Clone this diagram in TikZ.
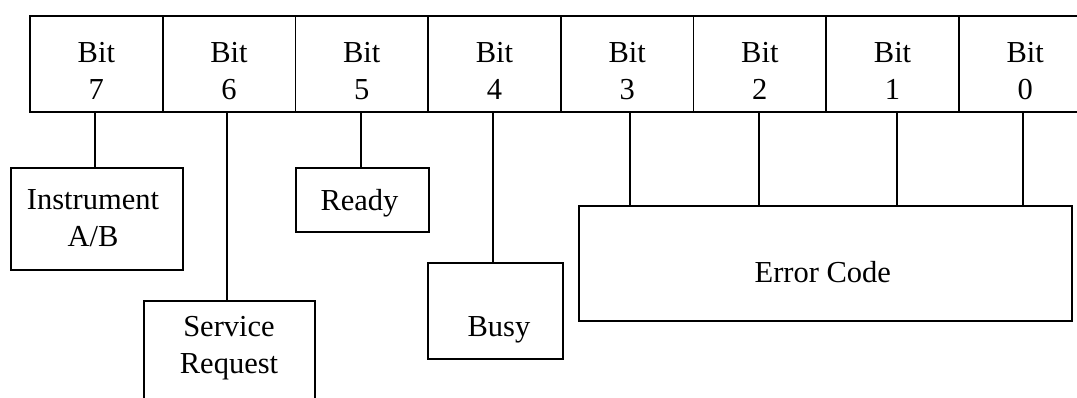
\documentclass[tikz,border=0pt]{standalone}
\usepackage{fontspec}
\setmainfont{Liberation Serif}
\begin{document}
\begin{tikzpicture}[x=1pt,y=-1pt, line width=1.8pt,
  cell/.style={draw, inner sep=0pt, minimum width=132.7pt, minimum height=96.3pt},
  box/.style={draw, inner sep=0pt},
  txt/.style={font=\fontsize{30.5}{37}\selectfont, align=center, inner sep=0pt},
  conn/.style={draw, line width=1.8pt}]
\useasboundingbox (0,0) rectangle (1077,397);
\clip (0,0) rectangle (1077,397);
% register cells
\foreach \i/\b in {0/7,1/6,2/5,3/4,4/3,5/2,6/1,7/0}
  \node[cell, label={[txt, yshift=-6.4pt]center:Bit\\\b}] (c\b) at (96.35+132.7*\i, 64.15) {};
% field boxes
\node[box, minimum width=171.4pt, minimum height=101.7pt,
      label={[txt, xshift=-4pt, yshift=1.5pt]center:Instrument\\A/B}] (inst) at (97,219.2) {};
\node[box, minimum width=170.4pt, minimum height=129pt,
      label={[txt, xshift=-0.5pt, yshift=17.3pt]center:Service\\Request}] (srq) at (229.5,365.5) {};
\node[box, minimum width=133pt, minimum height=63.4pt,
      label={[txt, xshift=-2.7pt, yshift=-3.7pt]center:Ready}] (ready) at (362.2,200) {};
\node[box, minimum width=134.4pt, minimum height=96pt,
      label={[txt, xshift=3.5pt, yshift=-18.3pt]center:Busy}] (busy) at (495.5,311) {};
\node[box, minimum width=493pt, minimum height=115pt,
      label={[txt, xshift=-3pt, yshift=-8.8pt]center:Error Code}] (err) at (825.8,263.5) {};
% connectors
\draw[conn] ([xshift=-1.35pt]c7.south) -- ([xshift=-1.35pt]c7.south |- inst.north);
\draw[conn] ([xshift=-2.05pt]c6.south) -- ([xshift=-2.05pt]c6.south |- srq.north);
\draw[conn] ([xshift=-0.75pt]c5.south) -- ([xshift=-0.75pt]c5.south |- ready.north);
\draw[conn] ([xshift=-1.45pt]c4.south) -- ([xshift=-1.45pt]c4.south |- busy.north);
\draw[conn] ([xshift=3.15pt]c3.south) -- ([xshift=3.15pt]c3.south |- err.north);
\draw[conn] ([xshift=-0.55pt]c2.south) -- ([xshift=-0.55pt]c2.south |- err.north);
\draw[conn] ([xshift=4.15pt]c1.south) -- ([xshift=4.15pt]c1.south |- err.north);
\draw[conn] ([xshift=-2.25pt]c0.south) -- ([xshift=-2.25pt]c0.south |- err.north);
\end{tikzpicture}
\end{document}
